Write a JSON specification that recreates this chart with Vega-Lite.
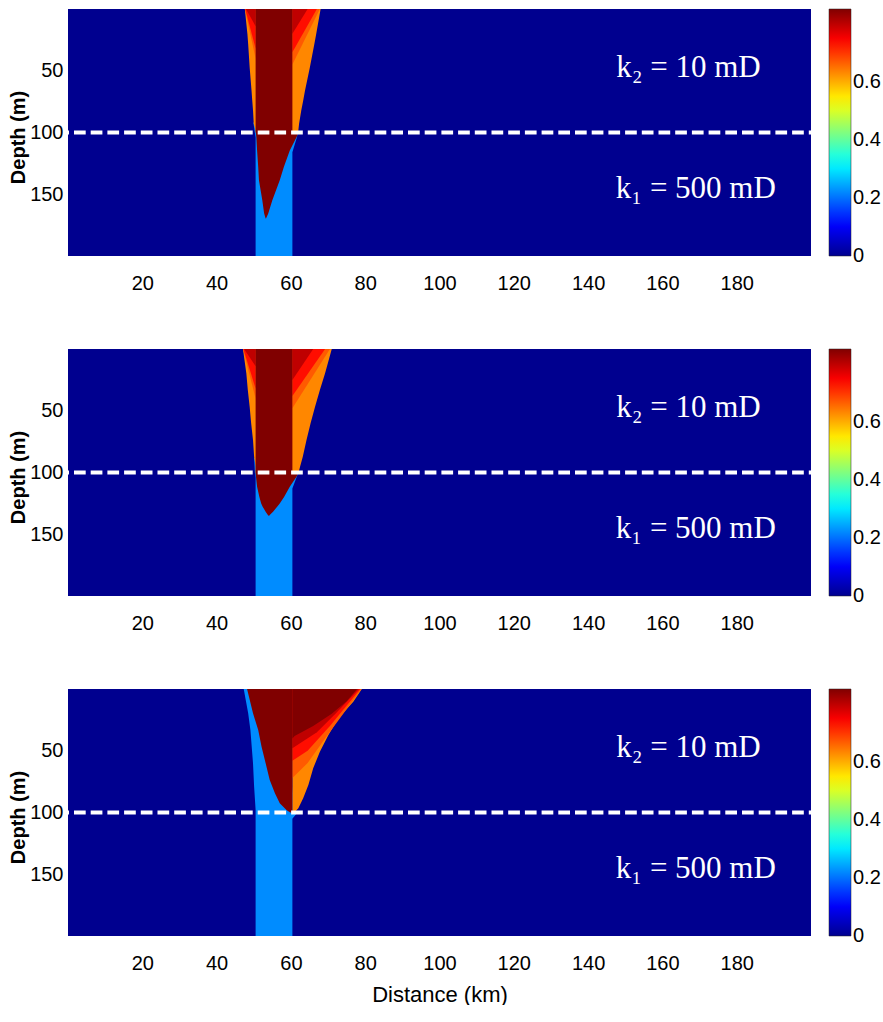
{
  "$schema": "https://vega.github.io/schema/vega-lite/v6.json",
  "background": "white",
  "padding": {"left": 8, "top": 9, "right": 0, "bottom": 0},
  "config": {
    "view": {"stroke": null},
    "axis": {"grid": false, "ticks": false, "domain": false, "labelColor": "black", "titleColor": "black", "labelFont": "Liberation Sans, Arial", "labelFontSize": 20},
    "legend": {"labelColor": "black"}
  },
  "datasets": {
    "shapes": [
      {"p":1,"l":1,"g":"1a","v":0.223,"d":92,"a":49.9,"b":60.4},
      {"p":1,"l":1,"g":"1a","v":0.223,"d":98.4,"a":50.2,"b":62.0},
      {"p":1,"l":1,"g":"1a","v":0.223,"d":104,"a":50.5,"b":61.6},
      {"p":1,"l":1,"g":"1a","v":0.223,"d":116,"a":50.5,"b":60.4},
      {"p":1,"l":1,"g":"1a","v":0.223,"d":200,"a":50.5,"b":60.4},
      {"p":1,"l":2,"g":"1b","v":0.631,"d":0,"a":47.6,"b":68.0},
      {"p":1,"l":2,"g":"1b","v":0.631,"d":20.4,"a":48.3,"b":66.8},
      {"p":1,"l":2,"g":"1b","v":0.631,"d":28.5,"a":48.5,"b":66.3},
      {"p":1,"l":2,"g":"1b","v":0.631,"d":47.3,"a":48.9,"b":65.1},
      {"p":1,"l":2,"g":"1b","v":0.631,"d":66,"a":49.4,"b":63.8},
      {"p":1,"l":2,"g":"1b","v":0.631,"d":74.2,"a":49.6,"b":63.3},
      {"p":1,"l":2,"g":"1b","v":0.631,"d":82,"a":49.8,"b":62.8},
      {"p":1,"l":2,"g":"1b","v":0.631,"d":93,"a":50.0,"b":62.2},
      {"p":1,"l":2,"g":"1b","v":0.631,"d":98.4,"a":50.5,"b":62.0},
      {"p":1,"l":2,"g":"1b","v":0.631,"d":100,"a":50.5,"b":61.8},
      {"p":1,"l":3,"g":"1c","v":0.669,"d":0,"a":60.4,"b":67.8},
      {"p":1,"l":3,"g":"1c","v":0.669,"d":45,"a":60.4,"b":60.4},
      {"p":1,"l":3,"g":"1d","v":0.669,"d":0,"a":47.6,"b":50.5},
      {"p":1,"l":3,"g":"1d","v":0.669,"d":40,"a":50.5,"b":50.5},
      {"p":1,"l":4,"g":"1e","v":0.733,"d":0,"a":60.4,"b":67.0},
      {"p":1,"l":4,"g":"1e","v":0.733,"d":35,"a":60.4,"b":60.4},
      {"p":1,"l":4,"g":"1f","v":0.733,"d":0,"a":47.7,"b":50.5},
      {"p":1,"l":4,"g":"1f","v":0.733,"d":32,"a":50.5,"b":50.5},
      {"p":1,"l":5,"g":"1g","v":0.797,"d":0,"a":60.4,"b":64.5},
      {"p":1,"l":5,"g":"1g","v":0.797,"d":20,"a":60.4,"b":60.4},
      {"p":1,"l":5,"g":"1h","v":0.797,"d":0,"a":47.9,"b":50.5},
      {"p":1,"l":5,"g":"1h","v":0.797,"d":14,"a":50.5,"b":50.5},
      {"p":1,"l":6,"g":"1i","v":0.85,"d":0,"a":50.5,"b":60.4},
      {"p":1,"l":6,"g":"1i","v":0.85,"d":99,"a":50.5,"b":60.4},
      {"p":1,"l":6,"g":"1i","v":0.85,"d":101,"a":50.6,"b":61.9},
      {"p":1,"l":6,"g":"1i","v":0.85,"d":103.8,"a":50.7,"b":61.5},
      {"p":1,"l":6,"g":"1i","v":0.85,"d":114.5,"a":50.9,"b":59.7},
      {"p":1,"l":6,"g":"1i","v":0.85,"d":128,"a":51.2,"b":58.1},
      {"p":1,"l":6,"g":"1i","v":0.85,"d":138.7,"a":51.4,"b":57.0},
      {"p":1,"l":6,"g":"1i","v":0.85,"d":154.8,"a":52.3,"b":55.0},
      {"p":1,"l":6,"g":"1i","v":0.85,"d":165.6,"a":52.8,"b":53.9},
      {"p":1,"l":6,"g":"1i","v":0.85,"d":169.6,"a":53.2,"b":53.3},

      {"p":2,"l":1,"g":"2a","v":0.223,"d":88,"a":50.1,"b":60.4},
      {"p":2,"l":1,"g":"2a","v":0.223,"d":100,"a":50.3,"b":62.0},
      {"p":2,"l":1,"g":"2a","v":0.223,"d":104,"a":50.5,"b":61.5},
      {"p":2,"l":1,"g":"2a","v":0.223,"d":113,"a":50.5,"b":60.4},
      {"p":2,"l":1,"g":"2a","v":0.223,"d":200,"a":50.5,"b":60.4},
      {"p":2,"l":2,"g":"2b","v":0.631,"d":0,"a":47.1,"b":71.0},
      {"p":2,"l":2,"g":"2b","v":0.631,"d":19.7,"a":48.0,"b":69.2},
      {"p":2,"l":2,"g":"2b","v":0.631,"d":33.2,"a":48.4,"b":67.8},
      {"p":2,"l":2,"g":"2b","v":0.631,"d":46.7,"a":48.9,"b":66.5},
      {"p":2,"l":2,"g":"2b","v":0.631,"d":60.2,"a":49.3,"b":65.3},
      {"p":2,"l":2,"g":"2b","v":0.631,"d":73.7,"a":49.8,"b":64.2},
      {"p":2,"l":2,"g":"2b","v":0.631,"d":87.2,"a":50.1,"b":63.2},
      {"p":2,"l":2,"g":"2b","v":0.631,"d":95,"a":50.5,"b":62.5},
      {"p":2,"l":2,"g":"2b","v":0.631,"d":100.7,"a":50.5,"b":62.0},
      {"p":2,"l":3,"g":"2c","v":0.669,"d":0,"a":60.4,"b":70.5},
      {"p":2,"l":3,"g":"2c","v":0.669,"d":48,"a":60.4,"b":60.4},
      {"p":2,"l":3,"g":"2d","v":0.669,"d":0,"a":47.1,"b":50.5},
      {"p":2,"l":3,"g":"2d","v":0.669,"d":40,"a":50.5,"b":50.5},
      {"p":2,"l":4,"g":"2e","v":0.733,"d":0,"a":60.4,"b":69.2},
      {"p":2,"l":4,"g":"2e","v":0.733,"d":38,"a":60.4,"b":60.4},
      {"p":2,"l":4,"g":"2f","v":0.733,"d":0,"a":47.2,"b":50.5},
      {"p":2,"l":4,"g":"2f","v":0.733,"d":32,"a":50.5,"b":50.5},
      {"p":2,"l":5,"g":"2g","v":0.797,"d":0,"a":60.4,"b":66.0},
      {"p":2,"l":5,"g":"2g","v":0.797,"d":25,"a":60.4,"b":60.4},
      {"p":2,"l":5,"g":"2h","v":0.797,"d":0,"a":47.4,"b":50.5},
      {"p":2,"l":5,"g":"2h","v":0.797,"d":14,"a":50.5,"b":50.5},
      {"p":2,"l":6,"g":"2i","v":0.85,"d":0,"a":50.5,"b":60.4},
      {"p":2,"l":6,"g":"2i","v":0.85,"d":99,"a":50.5,"b":60.4},
      {"p":2,"l":6,"g":"2i","v":0.85,"d":101,"a":50.5,"b":61.9},
      {"p":2,"l":6,"g":"2i","v":0.85,"d":103.4,"a":50.6,"b":61.5},
      {"p":2,"l":6,"g":"2i","v":0.85,"d":111.5,"a":50.9,"b":59.7},
      {"p":2,"l":6,"g":"2i","v":0.85,"d":119.6,"a":51.5,"b":58.2},
      {"p":2,"l":6,"g":"2i","v":0.85,"d":125,"a":52.0,"b":57.0},
      {"p":2,"l":6,"g":"2i","v":0.85,"d":127.7,"a":52.4,"b":56.3},
      {"p":2,"l":6,"g":"2i","v":0.85,"d":131.7,"a":53.2,"b":55.2},
      {"p":2,"l":6,"g":"2i","v":0.85,"d":134.4,"a":53.8,"b":54.3},
      {"p":2,"l":6,"g":"2i","v":0.85,"d":135.2,"a":54.1,"b":54.1},

      {"p":3,"l":1,"g":"3a","v":0.223,"d":0,"a":47.3,"b":60.4},
      {"p":3,"l":1,"g":"3a","v":0.223,"d":19.7,"a":48.5,"b":60.4},
      {"p":3,"l":1,"g":"3a","v":0.223,"d":33.2,"a":49.1,"b":60.4},
      {"p":3,"l":1,"g":"3a","v":0.223,"d":60.2,"a":49.8,"b":60.4},
      {"p":3,"l":1,"g":"3a","v":0.223,"d":79.1,"a":50.1,"b":60.4},
      {"p":3,"l":1,"g":"3a","v":0.223,"d":98,"a":50.5,"b":61.0},
      {"p":3,"l":1,"g":"3a","v":0.223,"d":101,"a":50.5,"b":61.5},
      {"p":3,"l":1,"g":"3a","v":0.223,"d":105,"a":50.5,"b":60.4},
      {"p":3,"l":1,"g":"3a","v":0.223,"d":200,"a":50.5,"b":60.4},
      {"p":3,"l":2,"g":"3b","v":0.631,"d":0,"a":60.4,"b":79.1},
      {"p":3,"l":2,"g":"3b","v":0.631,"d":10.3,"a":60.4,"b":76.8},
      {"p":3,"l":2,"g":"3b","v":0.631,"d":23.7,"a":60.4,"b":72.8},
      {"p":3,"l":2,"g":"3b","v":0.631,"d":37.2,"a":60.4,"b":70.1},
      {"p":3,"l":2,"g":"3b","v":0.631,"d":50.8,"a":60.4,"b":67.8},
      {"p":3,"l":2,"g":"3b","v":0.631,"d":64.2,"a":60.4,"b":66.0},
      {"p":3,"l":2,"g":"3b","v":0.631,"d":77.7,"a":60.4,"b":64.7},
      {"p":3,"l":2,"g":"3b","v":0.631,"d":88.5,"a":60.4,"b":63.3},
      {"p":3,"l":2,"g":"3b","v":0.631,"d":96.6,"a":60.4,"b":62.0},
      {"p":3,"l":2,"g":"3b","v":0.631,"d":99.3,"a":60.4,"b":61.1},
      {"p":3,"l":2,"g":"3b","v":0.631,"d":100.5,"a":60.4,"b":60.4},
      {"p":3,"l":3,"g":"3c","v":0.669,"d":0,"a":60.4,"b":79.0},
      {"p":3,"l":3,"g":"3c","v":0.669,"d":40,"a":60.4,"b":69.2},
      {"p":3,"l":3,"g":"3c","v":0.669,"d":60,"a":60.4,"b":64.5},
      {"p":3,"l":3,"g":"3c","v":0.669,"d":72,"a":60.4,"b":60.4},
      {"p":3,"l":4,"g":"3e","v":0.733,"d":0,"a":60.4,"b":78.7},
      {"p":3,"l":4,"g":"3e","v":0.733,"d":30,"a":60.4,"b":70.5},
      {"p":3,"l":4,"g":"3e","v":0.733,"d":50,"a":60.4,"b":64.5},
      {"p":3,"l":4,"g":"3e","v":0.733,"d":58,"a":60.4,"b":60.4},
      {"p":3,"l":5,"g":"3g","v":0.797,"d":0,"a":60.4,"b":78.3},
      {"p":3,"l":5,"g":"3g","v":0.797,"d":20,"a":60.4,"b":72.0},
      {"p":3,"l":5,"g":"3g","v":0.797,"d":35,"a":60.4,"b":67.0},
      {"p":3,"l":5,"g":"3g","v":0.797,"d":48,"a":60.4,"b":60.4},
      {"p":3,"l":6,"g":"3i","v":0.85,"d":0,"a":48.2,"b":60.4},
      {"p":3,"l":6,"g":"3i","v":0.85,"d":19.7,"a":49.8,"b":60.4},
      {"p":3,"l":6,"g":"3i","v":0.85,"d":33.2,"a":51.2,"b":60.4},
      {"p":3,"l":6,"g":"3i","v":0.85,"d":46.7,"a":52.1,"b":60.4},
      {"p":3,"l":6,"g":"3i","v":0.85,"d":60.2,"a":53.2,"b":60.4},
      {"p":3,"l":6,"g":"3i","v":0.85,"d":73.7,"a":54.3,"b":60.4},
      {"p":3,"l":6,"g":"3i","v":0.85,"d":84.5,"a":55.7,"b":60.4},
      {"p":3,"l":6,"g":"3i","v":0.85,"d":92.6,"a":57.0,"b":60.4},
      {"p":3,"l":6,"g":"3i","v":0.85,"d":98,"a":58.8,"b":60.4},
      {"p":3,"l":6,"g":"3i","v":0.85,"d":100,"a":59.8,"b":60.4},
      {"p":3,"l":6,"g":"3j","v":0.85,"d":0,"a":60.4,"b":77.8},
      {"p":3,"l":6,"g":"3j","v":0.85,"d":10,"a":60.4,"b":75.0},
      {"p":3,"l":6,"g":"3j","v":0.85,"d":20,"a":60.4,"b":71.0},
      {"p":3,"l":6,"g":"3j","v":0.85,"d":30,"a":60.4,"b":66.0},
      {"p":3,"l":6,"g":"3j","v":0.85,"d":38,"a":60.4,"b":61.0},
      {"p":3,"l":6,"g":"3j","v":0.85,"d":40,"a":60.4,"b":60.4}
    ],
    "labels": [
      {"a": 167, "d": 48, "t": "k₂ = 10 mD"},
      {"a": 169, "d": 146, "t": "k₁ = 500 mD"}
    ]
  },
  "spacing": 93,
  "bounds": "flush",
  "resolve": {"scale": {"color": "independent"}, "legend": {"color": "independent"}},
  "vconcat": [
    {
      "width": 743, "height": 247,
      "encoding": {
        "x": {"field": "a", "type": "quantitative", "stack": null, "scale": {"domain": [0, 200], "nice": false, "zero": false}, "axis": {"values": [20,40,60,80,100,120,140,160,180], "title": null, "labelPadding": 17}},
        "y": {"field": "d", "type": "quantitative", "scale": {"domain": [0, 200], "nice": false, "zero": false, "reverse": true}, "axis": {"values": [50,100,150], "title": "Depth (m)", "labelPadding": 5, "titleFont": "Liberation Sans", "titleFontSize": 20, "titleFontWeight": "bold", "titleX": -40, "titleY": 128, "titleBaseline": "bottom", "titleAngle": 270}}
      },
      "layer": [
        {"data": {"values": [{"a": 0, "b": 200, "d": 0, "d2": 200, "v": 0}]}, "mark": "rect",
         "encoding": {"x2": {"field": "b"}, "y2": {"field": "d2"}, "color": {"field": "v", "type": "quantitative", "scale": {"domain": [0, 0.10625, 0.31875, 0.53125, 0.74375, 0.85], "range": ["#00008f", "#0000ff", "#00ffff", "#ffff00", "#ff0000", "#800000"], "interpolate": "rgb", "clamp": true}, "legend": {"title": null, "values": [0, 0.2, 0.4, 0.6], "format": "~g", "gradientLength": 247, "gradientThickness": 22, "labelFont": "Liberation Sans, Arial", "labelFontSize": 20, "labelOffset": 2, "offset": 18, "padding": 0, "gradientStrokeColor": "#222222", "gradientStrokeWidth": 0.5, "encode": {"labels": {"update": {"baseline": {"value": "middle"}}}}}}}},
        {"data": {"name": "shapes"}, "transform": [{"filter": "datum.p == 1 && datum.l == 1"}], "mark": {"type": "area", "orient": "horizontal"}, "encoding": {"x2": {"field": "b"}, "detail": {"field": "g"}, "color": {"field": "v", "type": "quantitative"}}},
        {"data": {"name": "shapes"}, "transform": [{"filter": "datum.p == 1 && datum.l == 2"}], "mark": {"type": "area", "orient": "horizontal"}, "encoding": {"x2": {"field": "b"}, "detail": {"field": "g"}, "color": {"field": "v", "type": "quantitative"}}},
        {"data": {"name": "shapes"}, "transform": [{"filter": "datum.p == 1 && datum.l == 3"}], "mark": {"type": "area", "orient": "horizontal"}, "encoding": {"x2": {"field": "b"}, "detail": {"field": "g"}, "color": {"field": "v", "type": "quantitative"}}},
        {"data": {"name": "shapes"}, "transform": [{"filter": "datum.p == 1 && datum.l == 4"}], "mark": {"type": "area", "orient": "horizontal"}, "encoding": {"x2": {"field": "b"}, "detail": {"field": "g"}, "color": {"field": "v", "type": "quantitative"}}},
        {"data": {"name": "shapes"}, "transform": [{"filter": "datum.p == 1 && datum.l == 5"}], "mark": {"type": "area", "orient": "horizontal"}, "encoding": {"x2": {"field": "b"}, "detail": {"field": "g"}, "color": {"field": "v", "type": "quantitative"}}},
        {"data": {"name": "shapes"}, "transform": [{"filter": "datum.p == 1 && datum.l == 6"}], "mark": {"type": "area", "orient": "horizontal"}, "encoding": {"x2": {"field": "b"}, "detail": {"field": "g"}, "color": {"field": "v", "type": "quantitative"}}},
        {"data": {"values": [{"a": 0, "b": 200, "d": 100}]}, "mark": {"type": "rule", "color": "white", "strokeWidth": 4, "strokeDash": [11.7, 5], "strokeDashOffset": 10.7}, "encoding": {"x2": {"field": "b"}}},
        {"data": {"name": "labels"}, "mark": {"type": "text", "color": "white", "font": "Liberation Serif", "fontSize": 31, "align": "center", "baseline": "middle"}, "encoding": {"text": {"field": "t"}}}
      ]
    },
    {
      "width": 743, "height": 247,
      "encoding": {
        "x": {"field": "a", "type": "quantitative", "stack": null, "scale": {"domain": [0, 200], "nice": false, "zero": false}, "axis": {"values": [20,40,60,80,100,120,140,160,180], "title": null, "labelPadding": 17}},
        "y": {"field": "d", "type": "quantitative", "scale": {"domain": [0, 200], "nice": false, "zero": false, "reverse": true}, "axis": {"values": [50,100,150], "title": "Depth (m)", "labelPadding": 5, "titleFont": "Liberation Sans", "titleFontSize": 20, "titleFontWeight": "bold", "titleX": -40, "titleY": 128, "titleBaseline": "bottom", "titleAngle": 270}}
      },
      "layer": [
        {"data": {"values": [{"a": 0, "b": 200, "d": 0, "d2": 200, "v": 0}]}, "mark": "rect",
         "encoding": {"x2": {"field": "b"}, "y2": {"field": "d2"}, "color": {"field": "v", "type": "quantitative", "scale": {"domain": [0, 0.10625, 0.31875, 0.53125, 0.74375, 0.85], "range": ["#00008f", "#0000ff", "#00ffff", "#ffff00", "#ff0000", "#800000"], "interpolate": "rgb", "clamp": true}, "legend": {"title": null, "values": [0, 0.2, 0.4, 0.6], "format": "~g", "gradientLength": 247, "gradientThickness": 22, "labelFont": "Liberation Sans, Arial", "labelFontSize": 20, "labelOffset": 2, "offset": 18, "padding": 0, "gradientStrokeColor": "#222222", "gradientStrokeWidth": 0.5, "encode": {"labels": {"update": {"baseline": {"value": "middle"}}}}}}}},
        {"data": {"name": "shapes"}, "transform": [{"filter": "datum.p == 2 && datum.l == 1"}], "mark": {"type": "area", "orient": "horizontal"}, "encoding": {"x2": {"field": "b"}, "detail": {"field": "g"}, "color": {"field": "v", "type": "quantitative"}}},
        {"data": {"name": "shapes"}, "transform": [{"filter": "datum.p == 2 && datum.l == 2"}], "mark": {"type": "area", "orient": "horizontal"}, "encoding": {"x2": {"field": "b"}, "detail": {"field": "g"}, "color": {"field": "v", "type": "quantitative"}}},
        {"data": {"name": "shapes"}, "transform": [{"filter": "datum.p == 2 && datum.l == 3"}], "mark": {"type": "area", "orient": "horizontal"}, "encoding": {"x2": {"field": "b"}, "detail": {"field": "g"}, "color": {"field": "v", "type": "quantitative"}}},
        {"data": {"name": "shapes"}, "transform": [{"filter": "datum.p == 2 && datum.l == 4"}], "mark": {"type": "area", "orient": "horizontal"}, "encoding": {"x2": {"field": "b"}, "detail": {"field": "g"}, "color": {"field": "v", "type": "quantitative"}}},
        {"data": {"name": "shapes"}, "transform": [{"filter": "datum.p == 2 && datum.l == 5"}], "mark": {"type": "area", "orient": "horizontal"}, "encoding": {"x2": {"field": "b"}, "detail": {"field": "g"}, "color": {"field": "v", "type": "quantitative"}}},
        {"data": {"name": "shapes"}, "transform": [{"filter": "datum.p == 2 && datum.l == 6"}], "mark": {"type": "area", "orient": "horizontal"}, "encoding": {"x2": {"field": "b"}, "detail": {"field": "g"}, "color": {"field": "v", "type": "quantitative"}}},
        {"data": {"values": [{"a": 0, "b": 200, "d": 100}]}, "mark": {"type": "rule", "color": "white", "strokeWidth": 4, "strokeDash": [11.7, 5], "strokeDashOffset": 10.7}, "encoding": {"x2": {"field": "b"}}},
        {"data": {"name": "labels"}, "mark": {"type": "text", "color": "white", "font": "Liberation Serif", "fontSize": 31, "align": "center", "baseline": "middle"}, "encoding": {"text": {"field": "t"}}}
      ]
    },
    {
      "width": 743, "height": 247,
      "encoding": {
        "x": {"field": "a", "type": "quantitative", "stack": null, "scale": {"domain": [0, 200], "nice": false, "zero": false}, "axis": {"values": [20,40,60,80,100,120,140,160,180], "title": "Distance (km)", "labelPadding": 17, "titleFont": "Liberation Sans", "titleFontSize": 22, "titleFontWeight": "normal", "titleBaseline": "middle", "titleY": 58}},
        "y": {"field": "d", "type": "quantitative", "scale": {"domain": [0, 200], "nice": false, "zero": false, "reverse": true}, "axis": {"values": [50,100,150], "title": "Depth (m)", "labelPadding": 5, "titleFont": "Liberation Sans", "titleFontSize": 20, "titleFontWeight": "bold", "titleX": -40, "titleY": 128, "titleBaseline": "bottom", "titleAngle": 270}}
      },
      "layer": [
        {"data": {"values": [{"a": 0, "b": 200, "d": 0, "d2": 200, "v": 0}]}, "mark": "rect",
         "encoding": {"x2": {"field": "b"}, "y2": {"field": "d2"}, "color": {"field": "v", "type": "quantitative", "scale": {"domain": [0, 0.10625, 0.31875, 0.53125, 0.74375, 0.85], "range": ["#00008f", "#0000ff", "#00ffff", "#ffff00", "#ff0000", "#800000"], "interpolate": "rgb", "clamp": true}, "legend": {"title": null, "values": [0, 0.2, 0.4, 0.6], "format": "~g", "gradientLength": 247, "gradientThickness": 22, "labelFont": "Liberation Sans, Arial", "labelFontSize": 20, "labelOffset": 2, "offset": 18, "padding": 0, "gradientStrokeColor": "#222222", "gradientStrokeWidth": 0.5, "encode": {"labels": {"update": {"baseline": {"value": "middle"}}}}}}}},
        {"data": {"name": "shapes"}, "transform": [{"filter": "datum.p == 3 && datum.l == 1"}], "mark": {"type": "area", "orient": "horizontal"}, "encoding": {"x2": {"field": "b"}, "detail": {"field": "g"}, "color": {"field": "v", "type": "quantitative"}}},
        {"data": {"name": "shapes"}, "transform": [{"filter": "datum.p == 3 && datum.l == 2"}], "mark": {"type": "area", "orient": "horizontal"}, "encoding": {"x2": {"field": "b"}, "detail": {"field": "g"}, "color": {"field": "v", "type": "quantitative"}}},
        {"data": {"name": "shapes"}, "transform": [{"filter": "datum.p == 3 && datum.l == 3"}], "mark": {"type": "area", "orient": "horizontal"}, "encoding": {"x2": {"field": "b"}, "detail": {"field": "g"}, "color": {"field": "v", "type": "quantitative"}}},
        {"data": {"name": "shapes"}, "transform": [{"filter": "datum.p == 3 && datum.l == 4"}], "mark": {"type": "area", "orient": "horizontal"}, "encoding": {"x2": {"field": "b"}, "detail": {"field": "g"}, "color": {"field": "v", "type": "quantitative"}}},
        {"data": {"name": "shapes"}, "transform": [{"filter": "datum.p == 3 && datum.l == 5"}], "mark": {"type": "area", "orient": "horizontal"}, "encoding": {"x2": {"field": "b"}, "detail": {"field": "g"}, "color": {"field": "v", "type": "quantitative"}}},
        {"data": {"name": "shapes"}, "transform": [{"filter": "datum.p == 3 && datum.l == 6"}], "mark": {"type": "area", "orient": "horizontal"}, "encoding": {"x2": {"field": "b"}, "detail": {"field": "g"}, "color": {"field": "v", "type": "quantitative"}}},
        {"data": {"values": [{"a": 0, "b": 200, "d": 100}]}, "mark": {"type": "rule", "color": "white", "strokeWidth": 4, "strokeDash": [11.7, 5], "strokeDashOffset": 10.7}, "encoding": {"x2": {"field": "b"}}},
        {"data": {"name": "labels"}, "mark": {"type": "text", "color": "white", "font": "Liberation Serif", "fontSize": 31, "align": "center", "baseline": "middle"}, "encoding": {"text": {"field": "t"}}}
      ]
    }
  ]
}
